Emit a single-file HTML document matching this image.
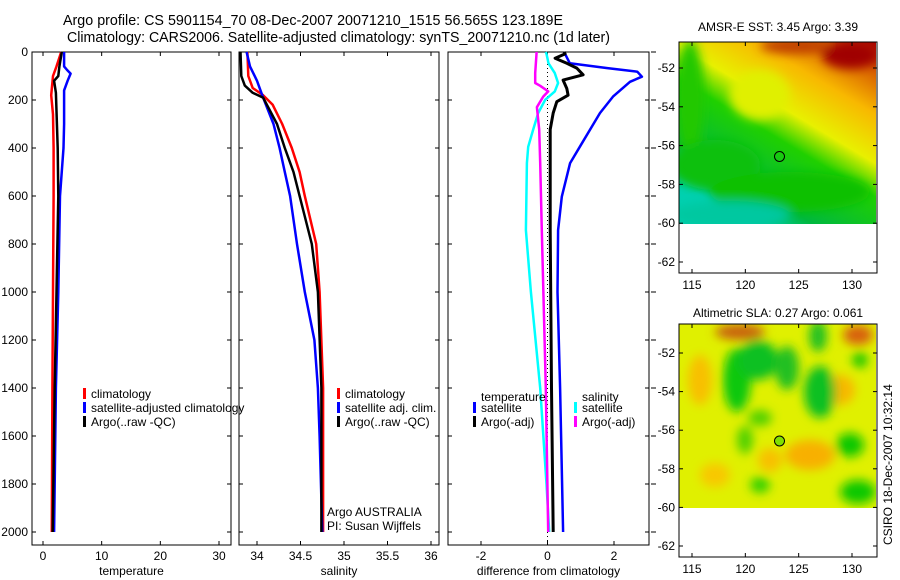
<!DOCTYPE html>
<html><head><meta charset="utf-8"><style>
html,body{margin:0;padding:0;background:#fff;}
svg{display:block;font-family:"Liberation Sans",sans-serif;}
</style></head><body>
<svg id="fig" width="900" height="580" viewBox="0 0 900 580" xmlns="http://www.w3.org/2000/svg">
<defs>
<filter id="blur4" x="-20%" y="-20%" width="140%" height="140%"><feGaussianBlur stdDeviation="5"/></filter>
<clipPath id="clip1"><rect x="679" y="42" width="197" height="182"/></clipPath>
<clipPath id="clip2"><rect x="679" y="324" width="197" height="184"/></clipPath>
<linearGradient id="sstGrad" x1="1" y1="0" x2="0.35" y2="1">
<stop offset="0" stop-color="#a80000"/><stop offset="0.12" stop-color="#d86000"/><stop offset="0.28" stop-color="#f8b800"/>
<stop offset="0.47" stop-color="#e8f000"/><stop offset="0.6" stop-color="#20d000"/><stop offset="0.85" stop-color="#00b840"/><stop offset="1" stop-color="#00d0b0"/>
</linearGradient>
</defs>
<text x="63" y="25" font-size="14.5" textLength="500" lengthAdjust="spacingAndGlyphs">Argo profile: CS 5901154_70 08-Dec-2007 20071210_1515 56.565S 123.189E</text>
<text x="67" y="42" font-size="14.5" textLength="543" lengthAdjust="spacingAndGlyphs">Climatology: CARS2006. Satellite-adjusted climatology: synTS_20071210.nc (1d later)</text>
<g id="panels"></g>

<!-- SST map -->
<g>
<text x="778" y="31" font-size="12" text-anchor="middle">AMSR-E SST: 3.45 Argo: 3.39</text>
<g clip-path="url(#clip1)">
<rect x="679" y="42" width="197" height="182" fill="url(#sstGrad)"/>
<g filter="url(#blur4)">
<ellipse cx="690" cy="100" rx="14" ry="60" fill="#20c800"/>
<ellipse cx="715" cy="165" rx="45" ry="25" fill="#10c010"/>
<ellipse cx="790" cy="192" rx="80" ry="20" fill="#10c000"/>
<ellipse cx="730" cy="215" rx="60" ry="14" fill="#00c8a0"/>
<ellipse cx="850" cy="55" rx="28" ry="14" fill="#a00000"/>
<ellipse cx="795" cy="46" rx="35" ry="8" fill="#c04000"/>
<ellipse cx="760" cy="95" rx="30" ry="25" fill="#e0f000"/>
</g>
</g>
<rect x="679" y="42" width="198" height="231" fill="none" stroke="#000" stroke-width="1"/>
<circle cx="779.5" cy="156.5" r="5" fill="none" stroke="#000"/>
</g>

<!-- SLA map -->
<g>
<text x="778" y="317" font-size="12" text-anchor="middle">Altimetric SLA: 0.27 Argo: 0.061</text>
<g clip-path="url(#clip2)">
<rect x="679" y="324" width="197" height="184" fill="#e0f000"/>
<g filter="url(#blur4)">
<ellipse cx="740" cy="332" rx="25" ry="8" fill="#c86010"/>
<ellipse cx="858" cy="335" rx="15" ry="10" fill="#d86010"/>
<ellipse cx="700" cy="380" rx="12" ry="25" fill="#f8c000"/>
<ellipse cx="840" cy="390" rx="15" ry="15" fill="#f8b800"/>
<ellipse cx="810" cy="455" rx="25" ry="15" fill="#f8b000"/>
<ellipse cx="770" cy="460" rx="12" ry="12" fill="#f8c000"/>
<ellipse cx="715" cy="475" rx="15" ry="12" fill="#f8c800"/>
<ellipse cx="737" cy="380" rx="14" ry="32" fill="#10c810"/>
<ellipse cx="758" cy="360" rx="20" ry="20" fill="#10c020"/>
<ellipse cx="787" cy="368" rx="12" ry="22" fill="#20c020"/>
<ellipse cx="820" cy="392" rx="16" ry="26" fill="#10c020"/>
<ellipse cx="818" cy="336" rx="9" ry="16" fill="#20c020"/>
<ellipse cx="850" cy="445" rx="14" ry="12" fill="#10c800"/>
<ellipse cx="858" cy="492" rx="18" ry="12" fill="#10c800"/>
<ellipse cx="760" cy="418" rx="12" ry="8" fill="#50d000"/>
<ellipse cx="745" cy="440" rx="8" ry="14" fill="#50d000"/>
<ellipse cx="760" cy="485" rx="10" ry="8" fill="#30d000"/>
<ellipse cx="860" cy="360" rx="8" ry="8" fill="#20c800"/>
</g>
</g>
<rect x="679" y="324" width="198" height="233" fill="none" stroke="#000" stroke-width="1"/>
<circle cx="779.5" cy="441" r="5" fill="#80e000" stroke="#000"/>
</g>
<text transform="translate(892,545) rotate(-90)" font-size="12">CSIRO 18-Dec-2007 10:32:14</text>
</svg>
<script>
// ---------- data ----------
const tempDepth = [0,60,100,180,260,400,600,1000,1400,2000];
const tempClim = [3.1,2.3,1.7,1.4,1.7,1.8,1.8,1.7,1.6,1.5];
const tempSatDepth = [0,60,75,90,120,160,300,400,600,1000,1400,2000];
const tempSat = [3.6,3.6,4.1,4.7,4.2,3.6,3.6,3.5,2.9,2.6,2.2,1.9];
const tempArgoDepth = [0,60,100,120,170,400,600,1000,1400,2000];
const tempArgo = [3.2,2.8,2.6,1.9,2.2,2.5,2.6,2.3,2.0,1.65];

const salClimDepth = [0,100,150,180,220,300,400,500,600,800,1000,1400,2000];
const salClim = [33.89,33.9,33.95,34.07,34.18,34.29,34.4,34.49,34.55,34.68,34.72,34.76,34.76];
const salSatDepth = [0,60,120,190,300,400,500,600,800,1000,1200,1400,1600,2000];
const salSat = [33.88,33.92,34.0,34.07,34.19,34.26,34.32,34.38,34.46,34.55,34.66,34.70,34.72,34.75];
const salArgoDepth = [0,100,140,170,190,300,400,500,600,800,1000,1400,2000];
const salArgo = [33.81,33.82,33.86,33.95,34.07,34.23,34.32,34.42,34.49,34.63,34.70,34.74,34.74];

const dTSatDepth = [0,8,47,67,82,103,124,186,254,395,463,603,742,1000,1400,2000];
const dTSat = [0.5,0.53,0.67,1.8,2.7,2.84,2.48,1.97,1.58,0.97,0.68,0.43,0.32,0.3,0.38,0.47];
const dTArgoDepth = [0,8,26,47,67,95,117,152,180,207,254,323,463,742,1400,2000];
const dTArgo = [0.5,0.53,0.23,0.58,0.88,1.07,0.47,0.58,0.62,0.28,0.17,0.08,0.08,0.08,0.12,0.17];
const dSSatDepth = [0,8,47,88,129,164,199,254,323,395,463,742,1000,1400,1800,2000];
const dSSat = [-0.05,-0.03,0.03,0.22,0.32,0.22,-0.07,-0.28,-0.43,-0.58,-0.62,-0.65,-0.5,-0.22,-0.03,0.05];
const dSArgoDepth = [0,8,88,129,141,164,186,230,323,463,742,1400,2000];
const dSArgo = [-0.33,-0.33,-0.37,-0.37,-0.22,0.02,-0.13,-0.32,-0.25,-0.22,-0.17,-0.05,0.02];

const depthTicks = [0,200,400,600,800,1000,1200,1400,1600,1800,2000];
const tempTicks = [0,10,20,30];
const salTicks = [34,34.5,35,35.5,36];
const diffTicks = [-2,0,2];
const lonTicks = [115,120,125,130];
const latTicks = [-52,-54,-56,-58,-60,-62];

// ---------- helpers ----------
const NS = "http://www.w3.org/2000/svg";
const root = document.getElementById('panels');
const fig = document.getElementById('fig');
function mk(tag, attrs, parent){ const e=document.createElementNS(NS,tag); for(const k in attrs) e.setAttribute(k,attrs[k]); (parent||root).appendChild(e); return e; }
const yD = d => 52 + d*0.24;
function lin(d0,d1,r0,r1){ return v => r0 + (v-d0)*(r1-r0)/(d1-d0); }
const xT = lin(0,30,43,219);
const xS = lin(34,36,257,431);
const xD = lin(-2,2,481,614);
const xLon = lin(115,130,692,852);
const yLat1 = lin(-52,-62,68,262);
const yLat2 = lin(-52,-62,353,546);

function panel(name,x0,x1,xs,ticks,title,leftLabels){
  const g = mk('g',{});
  
  
  mk('rect',{x:x0,y:52,width:x1-x0,height:493,fill:'none',stroke:'#000','stroke-width':1},g);
  depthTicks.forEach(d=>{
    mk('line',{x1:x0,x2:x0+4,y1:yD(d),y2:yD(d),stroke:'#000'},g);
    mk('line',{x1:x1-4,x2:x1,y1:yD(d),y2:yD(d),stroke:'#000'},g);
    if(leftLabels){ const t=mk('text',{x:x0-4,y:yD(d)+4,'font-size':12,'text-anchor':'end'},g); t.textContent=d;
        }
  });
  ticks.forEach(v=>{
    const x=xs(v);
    mk('line',{x1:x,x2:x,y1:52,y2:56,stroke:'#000'},g);
    mk('line',{x1:x,x2:x,y1:541,y2:545,stroke:'#000'},g);
    const t=mk('text',{x:x,y:560,'font-size':12,'text-anchor':'middle'},g); t.textContent=v;
     
  });
  const tt=mk('text',{x:(x0+x1)/2,y:575,'font-size':12,'text-anchor':'middle'},g); tt.textContent=title;
   
  return g;
}
function series(g,name,depths,vals,xs,color,w){
  const pts = depths.map((d,i)=>xs(vals[i]).toFixed(1)+','+yD(d).toFixed(1)).join(' ');
  const p = mk('polyline',{points:pts,fill:'none',stroke:color,'stroke-width':w||2.5,'stroke-linejoin':'round'},g);
  
  
}
function legend(g,x,y,color,label,name){
  mk('rect',{x:x,y:y-9,width:3,height:11,fill:color},g);
  const t=mk('text',{x:x+8,y:y+1,'font-size':12},g); t.textContent=label;
  
  
}

// Temperature panel
const g1 = panel('temperature-panel',32,231,xT,tempTicks,'temperature',true);
series(g1,'temp-climatology-line',tempDepth,tempClim,xT,'#ff0000');
series(g1,'temp-satellite-line',tempSatDepth,tempSat,xT,'#0000ff');
series(g1,'temp-argo-line',tempArgoDepth,tempArgo,xT,'#000000');
legend(g1,83,397,'#ff0000','climatology','legend-climatology');
legend(g1,83,411,'#0000ff','satellite-adjusted climatology','legend-satellite-adjusted');
legend(g1,83,425,'#000000','Argo(..raw -QC)','legend-argo');

// Salinity panel
const g2 = panel('salinity-panel',239,439,xS,salTicks,'salinity',false);
series(g2,'sal-climatology-line',salClimDepth,salClim,xS,'#ff0000');
series(g2,'sal-satellite-line',salSatDepth,salSat,xS,'#0000ff');
series(g2,'sal-argo-line',salArgoDepth,salArgo,xS,'#000000');
legend(g2,337,397,'#ff0000','climatology','legend-sal-climatology');
legend(g2,337,411,'#0000ff','satellite adj. clim.','legend-sal-satellite');
legend(g2,337,425,'#000000','Argo(..raw -QC)','legend-sal-argo');
const a1=mk('text',{x:327,y:516,'font-size':12},g2); a1.textContent='Argo AUSTRALIA';
 
const a2=mk('text',{x:327,y:530,'font-size':12},g2); a2.textContent='PI: Susan Wijffels';
 

// Difference panel
const g3 = panel('difference-panel',448,649,xD,diffTicks,'difference from climatology',false);
mk('line',{x1:xD(0),x2:xD(0),y1:52,y2:545,stroke:'#000','stroke-dasharray':'1,3'},g3);
depthTicks.forEach(d=>mk('line',{x1:651,x2:656,y1:yD(d),y2:yD(d),stroke:'#000'},g3));
series(g3,'diff-temp-satellite-line',dTSatDepth,dTSat,xD,'#0000ff');
series(g3,'diff-temp-argo-line',dTArgoDepth,dTArgo,xD,'#000000',3);
series(g3,'diff-sal-satellite-line',dSSatDepth,dSSat,xD,'#00ffff');
series(g3,'diff-sal-argo-line',dSArgoDepth,dSArgo,xD,'#ff00ff');
const lt=mk('text',{x:481,y:401,'font-size':12},g3); lt.textContent='temperature';
 
legend(g3,473,411,'#0000ff','satellite','legend-diff-temp-satellite');
legend(g3,473,425,'#000000','Argo(-adj)','legend-diff-temp-argo');
const ls=mk('text',{x:582,y:401,'font-size':12},g3); ls.textContent='salinity';
 
legend(g3,574,411,'#00ffff','satellite','legend-diff-sal-satellite');
legend(g3,574,425,'#ff00ff','Argo(-adj)','legend-diff-sal-argo');

// Map axes
function mapAxes(yTop,yBot,yLat,name){
  const g = mk('g',{},fig);
  
  
  lonTicks.forEach(v=>{
    const x=xLon(v);
    mk('line',{x1:x,x2:x,y1:yTop,y2:yTop+4,stroke:'#000'},g);
    mk('line',{x1:x,x2:x,y1:yBot-4,y2:yBot,stroke:'#000'},g);
    const t=mk('text',{x:x,y:yBot+16,'font-size':12,'text-anchor':'middle'},g); t.textContent=v;
     
  });
  latTicks.forEach(v=>{
    const y=yLat(v);
    mk('line',{x1:679,x2:683,y1:y,y2:y,stroke:'#000'},g);
    mk('line',{x1:873,x2:877,y1:y,y2:y,stroke:'#000'},g);
    const t=mk('text',{x:675,y:y+4,'font-size':12,'text-anchor':'end'},g); t.textContent=v;
     
  });
}
mapAxes(42,273,yLat1,'sst-map-axes');
mapAxes(324,557,yLat2,'sla-map-axes');
</script>
</body></html>
